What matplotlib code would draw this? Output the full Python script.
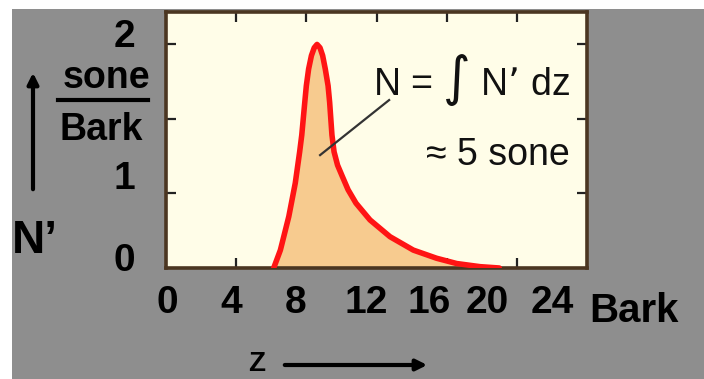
import matplotlib
matplotlib.use('Agg')
import matplotlib.pyplot as plt
from matplotlib.patches import Rectangle, FancyArrowPatch
from matplotlib.lines import Line2D

# Spezifische Lautheit N'(z)
z_bark = [6.14, 6.52, 7.0, 7.37, 7.62, 7.74, 7.91, 8.0, 8.13, 8.29, 8.45, 8.61,
          8.78, 8.93, 9.08, 9.24, 9.33, 9.46, 9.58, 9.78, 10.05, 10.38, 10.83,
          11.63, 12.77, 14.1, 15.43, 16.57, 17.9, 19.0]
n_spec = [0.0, 0.16, 0.46, 0.76, 1.04, 1.19, 1.48, 1.63, 1.78, 1.90, 1.97, 2.0,
          1.97, 1.90, 1.78, 1.63, 1.48, 1.19, 1.04, 0.92, 0.82, 0.70, 0.58,
          0.43, 0.28, 0.16, 0.087, 0.04, 0.012, 0.0]

x_tick_labels = ['0', '4', '8', '12', '16', '20', '24']
y_tick_labels = ['0', '1', '2']

W, H = 704, 379
GRAU = '#8e8e8e'
FONT = ['Liberation Sans', 'DejaVu Sans']
plt.rcParams['mathtext.fontset'] = 'dejavusans'


def fx(x):
    return x / W


def fy(y):
    return 1 - y / H


fig = plt.figure(figsize=(W / 100, H / 100), dpi=100, facecolor='white')
# grauer Folienhintergrund, oben und links ein weisser Rand
fig.add_artist(Rectangle((fx(12), 0), 1, fy(9), transform=fig.transFigure,
                         facecolor=GRAU, edgecolor='none', zorder=0))

ax = fig.add_axes([fx(166), fy(268), (587 - 166) / W, (268 - 12) / H])
ax.set_facecolor('#fffde8')

ax.fill_between(z_bark, n_spec, 0, color='#f7cb8f', zorder=2)
ax.plot(z_bark, n_spec, color='#ff1414', lw=4, solid_joinstyle='round',
        solid_capstyle='round', zorder=3)

ax.set_xlim(0, 24)
ax.set_ylim(0, 2.29)

# Teilstriche
ax.set_xticks([4, 8, 12, 16, 20], minor=True)
ax.set_yticks([2 / 3, 4 / 3, 2], minor=True)
ax.tick_params(which='minor', direction='in', length=7, width=1.6, color='#222222',
               top=True, bottom=True, left=True, right=True)

# Beschriftungen (wie auf der Folie leicht versetzt)
ax.set_xticks([0.05, 3.7, 7.4, 11.4, 15.0, 18.3, 22.0], x_tick_labels)
ax.set_yticks([0.1, 0.83, 2.1], y_tick_labels)
ax.tick_params(which='major', length=0)
ax.tick_params(axis='x', which='major', pad=12)
ax.tick_params(axis='y', which='major', pad=22)
for lab in ax.get_xticklabels() + ax.get_yticklabels():
    lab.set_fontfamily(FONT)
    lab.set_fontweight('bold')
    lab.set_fontsize(28)
    lab.set_color('black')

for sp in ax.spines.values():
    sp.set_color('#4b3621')
    sp.set_linewidth(2.6)

# Formel im Diagramm
ax.text(0.96, 0.734, 'N = $\\int$ N\u2019 dz', transform=ax.transAxes, ha='right',
        va='center', fontsize=27, family=FONT, color='#111111', zorder=5)
ax.text(0.96, 0.441, '\u2248 5 sone', transform=ax.transAxes, ha='right',
        va='center', fontsize=27, family=FONT, color='#111111', zorder=5)
ax.plot([0.53, 0.366], [0.656, 0.441], transform=ax.transAxes, color='#333333',
        lw=1.6, zorder=5)

# Achsenbeschriftung links
fig.text(fx(106), fy(88), 'sone', ha='center', va='baseline', fontsize=27,
         fontweight='bold', family=FONT)
fig.add_artist(Line2D([fx(58), fx(148)], [fy(100), fy(100)], color='black', lw=3))
fig.text(fx(101), fy(140), 'Bark', ha='center', va='baseline', fontsize=27,
         fontweight='bold', family=FONT)
fig.text(fx(12), fy(253), 'N\u2019', ha='left', va='baseline', fontsize=33,
         fontweight='bold', family=FONT)
fig.add_artist(FancyArrowPatch((fx(33), fy(192)), (fx(33), fy(70)),
                               transform=fig.transFigure, arrowstyle='-|>',
                               mutation_scale=16, lw=3, color='black'))

# Achsenbeschriftung unten
fig.text(fx(589), fy(322), 'Bark', ha='left', va='baseline', fontsize=29,
         fontweight='bold', family=FONT)
fig.text(fx(248), fy(377), 'Z', ha='left', va='bottom', fontsize=20,
         fontweight='bold', family=FONT)
fig.add_artist(FancyArrowPatch((fx(282), fy(365)), (fx(430), fy(365)),
                               transform=fig.transFigure, arrowstyle='-|>',
                               mutation_scale=16, lw=3, color='black'))

fig.savefig('out.png', dpi=100, facecolor='white')
